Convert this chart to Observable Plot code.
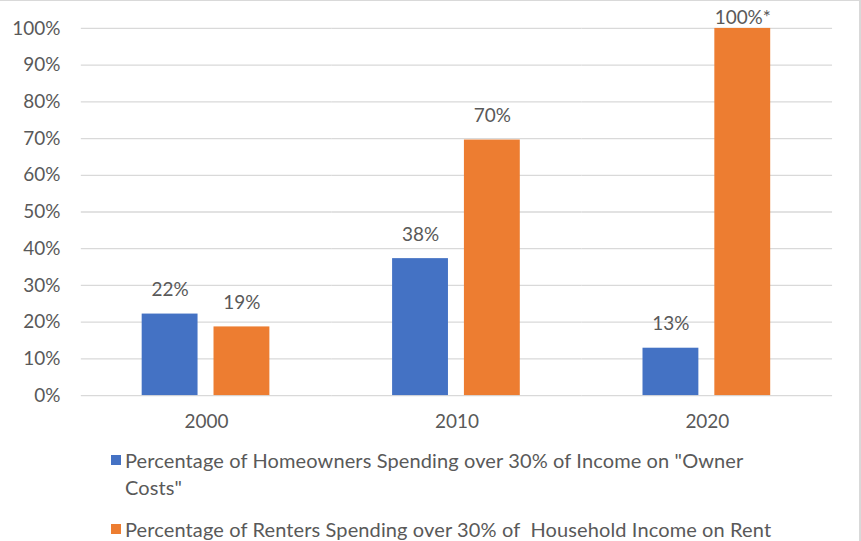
<!DOCTYPE html>
<html>
<head>
<meta charset="utf-8">
<script src="https://cdn.jsdelivr.net/npm/d3@7"></script>
<script src="https://cdn.jsdelivr.net/npm/@observablehq/plot@0.6"></script>
<style>
  html, body { margin: 0; padding: 0; background: #fff; }
  #wrap { position: relative; width: 861px; height: 541px; box-sizing: border-box;
          border-top: 1px solid #d9d9d9; border-right: 2px solid #d9d9d9; overflow: hidden;
          font-family: Lato, "Noto Sans", sans-serif; color: #595959; }
  #chart { position: absolute; left: 0; top: -1px; }
  .lg { position: absolute; left: 111px; font-size: 20px; line-height: 27px; letter-spacing: 0.12px; }
  .lg .sw { position: absolute; left: 0; top: 8px; width: 10px; height: 10px; }
  .lg .tx { position: absolute; left: 14px; top: 0; white-space: pre; }
</style>
</head>
<body>
<div id="wrap">
  <div id="chart"></div>
  <div id="legend"></div>
</div>
<script>
const years = ["2000", "2010", "2020"];
const seriesNames = [
  'Percentage of Homeowners Spending over 30% of Income on "Owner Costs"',
  "Percentage of Renters Spending over 30% of  Household Income on Rent"
];
const homeowners = [22.2, 37.3, 12.9];
const renters = [18.7, 69.6, 100];
const homeownerLabels = ["22%", "38%", "13%"];
const renterLabels = ["19%", "70%", "100%*"];
const yTicks = [0, 10, 20, 30, 40, 50, 60, 70, 80, 90, 100];
const colors = ["#4472c4", "#ed7d31"];

const data = [];
years.forEach((yr, i) => {
  data.push({year: yr, series: seriesNames[0], value: homeowners[i], label: homeownerLabels[i]});
  data.push({year: yr, series: seriesNames[1], value: renters[i], label: renterLabels[i]});
});

const font = "Lato, 'Noto Sans', sans-serif";

const chart = Plot.plot({
  width: 861,
  height: 440,
  marginTop: 28,
  marginBottom: 44,
  marginLeft: 80,
  marginRight: 27,
  style: {fontFamily: font, fontSize: "19px", color: "#595959", background: "transparent"},
  fx: {domain: years, padding: 0, label: null},
  x: {domain: seriesNames, paddingInner: 0.222, paddingOuter: 0.854, axis: null},
  y: {domain: [0, 100], label: null},
  color: {domain: seriesNames, range: colors},
  marks: [
    Plot.gridY(yTicks, {stroke: "#d9d9d9", strokeOpacity: 1, strokeWidth: 1.3}),
    Plot.axisY(yTicks, {tickSize: 0, tickPadding: 21, tickFormat: d => d + "%", fontSize: 19, fill: "#595959", label: null}),
    Plot.axisFx({anchor: "bottom", tickSize: 0, tickPadding: 19, fontSize: 19, fill: "#595959", label: null}),
    Plot.barY(data, {fx: "year", x: "series", y: "value", fill: "series"}),
    Plot.text(data.filter(d => d.value < 95), {fx: "year", x: "series", y: "value", text: "label", dy: -24, fill: "#595959", fontSize: 19}),
    Plot.text(data.filter(d => d.value >= 95), {fx: "year", x: "series", y: "value", text: "label", dy: -11, fill: "#595959", fontSize: 19})
  ]
});
document.getElementById("chart").appendChild(chart);

const legend = document.getElementById("legend");
const tops = [446, 515];
seriesNames.forEach((name, i) => {
  const row = document.createElement("div");
  row.className = "lg";
  row.style.top = tops[i] + "px";
  const sw = document.createElement("div");
  sw.className = "sw";
  sw.style.background = colors[i];
  const tx = document.createElement("div");
  tx.className = "tx";
  tx.textContent = i === 0 ? name.replace("Owner Costs", "Owner\nCosts") : name;
  row.appendChild(sw);
  row.appendChild(tx);
  legend.appendChild(row);
});
</script>
</body>
</html>
